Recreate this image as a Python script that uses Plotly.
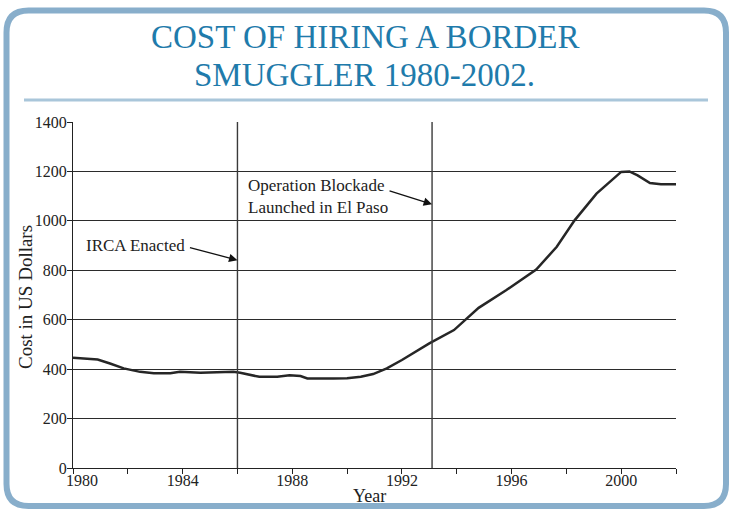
import plotly.graph_objects as go

# ---- data ----
years = [1980, 1980.9, 1981.35, 1981.85, 1982.45, 1982.95, 1983.55, 1983.9, 1984.65,
         1985.85, 1986.1, 1986.8, 1987.45, 1987.9, 1988.3, 1988.55, 1989.5, 1990,
         1990.5, 1990.95, 1991.45, 1992, 1993, 1993.9, 1994.8, 1995.8, 1996.9,
         1997.65, 1998.3, 1999.1, 2000, 2000.3, 2000.6, 2001.05, 2001.45, 2002]
costs = [446, 439, 423, 403, 389, 383, 383, 389, 385,
         389, 385, 369, 369, 375, 372, 362, 362, 363,
         369, 380, 403, 437, 504, 558, 648, 719, 803,
         895, 1002, 1110, 1198, 1200, 1184, 1153, 1148, 1148]

event_years = [1986, 1993.1]
event_labels = ["IRCA Enacted", "Operation Blockade<br>Launched in El Paso"]
event_arrow_values = [841, 1067]

x_tickvals = [1980, 1982, 1984, 1986, 1988, 1990, 1992, 1994, 1996, 1998, 2000, 2002]
x_ticktext = ["", "", "1984", "", "1988", "", "1992", "", "1996", "", "2000", ""]
first_year_label = "1980"   # drawn nudged right of the axis corner, as in the original
y_tickvals = [0, 200, 400, 600, 800, 1000, 1200, 1400]

title_lines = ["COST OF HIRING A BORDER", "SMUGGLER 1980-2002."]
x_title = "Year"
y_title = "Cost in US Dollars"

# ---- layout geometry (pixels) ----
W, H = 729, 510
L, R, T, B = 73, 53, 122, 42
PW, PH = W - L - R, H - T - B


def px(x):
    return (x - L) / PW


def py(y):
    return (H - B - y) / PH


SERIF = "Liberation Serif, Times New Roman, serif"
INK = "#222"

fig = go.Figure()
fig.add_trace(go.Scatter(x=years, y=costs, mode="lines",
                         line=dict(color="#262626", width=2.5),
                         hoverinfo="x+y", showlegend=False))

# event lines
for ey in event_years:
    fig.add_shape(type="line", xref="x", yref="y", x0=ey, x1=ey, y0=0, y1=1400,
                  line=dict(color="#3a3a3a", width=1.4), layer="above")

# event arrows (tip at the event line)
arrow_offsets = [(-49, -13), (-44, -14)]
for ey, val, (axo, ayo) in zip(event_years, event_arrow_values, arrow_offsets):
    fig.add_annotation(x=ey, y=val, xref="x", yref="y", text="", showarrow=True,
                       ax=axo, ay=ayo, axref="pixel", ayref="pixel",
                       arrowhead=2, arrowsize=1.3, arrowwidth=1.3,
                       arrowcolor="#111", standoff=0)

# event labels
fig.add_annotation(x=px(84), y=py(245), xref="paper", yref="paper",
                   text=event_labels[0], showarrow=False, xanchor="left", yanchor="middle",
                   font=dict(family=SERIF, size=17, color=INK))
fig.add_annotation(x=px(246), y=py(196), xref="paper", yref="paper",
                   text=event_labels[1], showarrow=False, xanchor="left", yanchor="middle",
                   align="left", font=dict(family=SERIF, size=17, color=INK))

# first x tick label, nudged right
fig.add_annotation(x=x_tickvals[0], y=py(480), xref="x", yref="paper",
                   text=first_year_label, showarrow=False, xanchor="center",
                   yanchor="middle", xshift=9, borderpad=0,
                   font=dict(family=SERIF, size=16, color=INK))

# title (two centred lines)
for line, yc in zip(title_lines, [37, 75]):
    fig.add_annotation(x=px(W / 2), y=py(yc), xref="paper", yref="paper",
                       text=line, showarrow=False, xanchor="center", yanchor="middle",
                       font=dict(family=SERIF, size=33, color="#1f7bab"))

# axis titles
fig.add_annotation(x=px(369), y=py(496), xref="paper", yref="paper", text=x_title,
                   showarrow=False, xanchor="center", yanchor="middle",
                   font=dict(family=SERIF, size=18, color=INK))
fig.add_annotation(x=px(25), y=py(297), xref="paper", yref="paper", text=y_title,
                   showarrow=False, xanchor="center", yanchor="middle", textangle=-90,
                   font=dict(family=SERIF, size=19, color=INK))

# rounded frame
x0, x1, y0, y1, r = 6.5, 726, 10.5, 506, 22
path = (f"M {px(x0)},{py(y0 + r)} "
        f"Q {px(x0)},{py(y0)} {px(x0 + r)},{py(y0)} "
        f"L {px(x1 - r)},{py(y0)} "
        f"Q {px(x1)},{py(y0)} {px(x1)},{py(y0 + r)} "
        f"L {px(x1)},{py(y1 - r)} "
        f"Q {px(x1)},{py(y1)} {px(x1 - r)},{py(y1)} "
        f"L {px(x0 + r)},{py(y1)} "
        f"Q {px(x0)},{py(y1)} {px(x0)},{py(y1 - r)} Z")
fig.add_shape(type="path", xref="paper", yref="paper", path=path,
              line=dict(color="#88aecb", width=6), layer="below")
# separator under title
fig.add_shape(type="line", xref="paper", yref="paper",
              x0=px(24), x1=px(708), y0=py(100), y1=py(100),
              line=dict(color="#a9c6da", width=3))

fig.update_layout(
    width=W, height=H,
    margin=dict(l=L, r=R, t=T, b=B, autoexpand=False),
    paper_bgcolor="white", plot_bgcolor="white",
    font=dict(family=SERIF, color=INK),
)
fig.update_xaxes(range=[1980, 2002], tickvals=x_tickvals, ticktext=x_ticktext,
                 ticks="outside", ticklen=5, tickwidth=1.2, tickcolor=INK,
                 ticklabelstandoff=-7,
                 showgrid=False, zeroline=False, showline=True, linecolor=INK,
                 linewidth=1.3, tickfont=dict(family=SERIF, size=16, color=INK),
                 automargin=False)
fig.update_yaxes(range=[0, 1400], tickvals=y_tickvals, ticks="outside", ticklen=5,
                 tickwidth=1.2, tickcolor=INK, showgrid=True, gridcolor="#2b2b2b",
                 ticklabelstandoff=-3,
                 gridwidth=1, zeroline=False, showline=True, linecolor=INK,
                 linewidth=1.3, tickfont=dict(family=SERIF, size=16, color=INK),
                 automargin=False)

fig.write_html("out.html", config={"displayModeBar": False},
               post_script="document.body.style.margin='0';")
